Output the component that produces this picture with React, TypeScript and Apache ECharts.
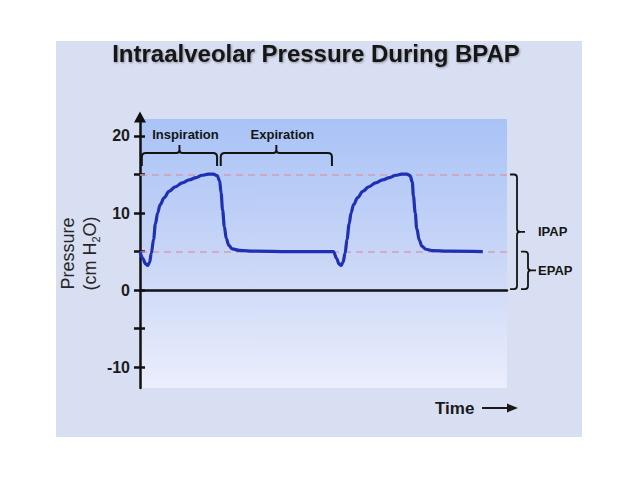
import React, { useEffect, useRef } from 'react';
import * as echarts from 'echarts';

// Pressure curve, first breath (time in arbitrary units, pressure in cm H2O)
const cycle1Time = [0, 0.8, 1.5, 2.1, 2.6, 3.1, 3.7, 4.2, 4.8, 5.5, 6.6, 7.9, 9.6, 11.5, 13.4, 15.3, 16.9, 18.6, 20.0, 21.0, 21.7, 22.1, 22.5, 23.0, 23.5, 24.2, 25.1, 27.1, 31.2, 40.7, 52.7];
const cycle1Pressure = [5.0, 4.1, 3.4, 3.2, 3.6, 4.8, 6.6, 8.6, 10.0, 11.1, 12.0, 12.8, 13.4, 13.9, 14.3, 14.6, 14.9, 15.05, 15.05, 14.85, 14.2, 12.6, 10.4, 8.2, 6.7, 5.8, 5.35, 5.15, 5.05, 5.0, 5.0];
// Second breath
const cycle2Time = [53.6, 54.2, 54.8, 55.3, 55.9, 56.4, 57.0, 57.5, 58.2, 59.3, 60.7, 62.3, 64.2, 66.1, 68.0, 69.7, 71.3, 72.7, 73.6, 74.2, 74.5, 75.0, 75.4, 76.1, 76.8, 77.9, 79.8, 83.9, 93.4];
const cycle2Pressure = [4.1, 3.4, 3.2, 3.6, 4.8, 6.6, 8.6, 10.0, 11.1, 12.0, 12.8, 13.4, 13.9, 14.3, 14.6, 14.9, 15.05, 15.05, 14.85, 14.0, 12.2, 10.0, 8.0, 6.5, 5.7, 5.3, 5.12, 5.05, 5.0];

const timeMin = 0;
const timeMax = 100;
const pressureMin = -12.7;
const pressureMax = 22.2;
const yTickValues = [-10, -5, 0, 5, 10, 15, 20];
const yLabelValues = [-10, 0, 10, 20];

const ipapLevel = 15;
const epapLevel = 5;

// Phase brackets above the curve
const phaseStart = [0.5, 22.0];
const phaseEnd = [21.0, 52.3];
const phaseLabels = ['Inspiration', 'Expiration'];
const phaseBracketLevel = 17.8;

// Pressure-level brackets on the right
const levelLow = [0, 0];
const levelHigh = [ipapLevel, epapLevel];
const levelLabels = ['IPAP', 'EPAP'];

const FONT = "'Liberation Sans', Arial, Helvetica, sans-serif";

export default function App() {
  const ref = useRef<HTMLDivElement>(null);

  useEffect(() => {
    if (!ref.current) return;
    const chart = echarts.init(ref.current, null, { renderer: 'svg' });

    const curve = cycle1Time
      .map((t, i) => [t, cycle1Pressure[i]])
      .concat(cycle2Time.map((t, i) => [t, cycle2Pressure[i]]));

    const option: any = {
      animation: false,
      textStyle: { fontFamily: FONT },
      graphic: [
        {
          type: 'rect',
          z: -10,
          silent: true,
          shape: { x: 56, y: 41, width: 526, height: 396 },
          style: { fill: '#d8dff2' },
        },
        {
          type: 'text',
          x: 316,
          y: 53,
          style: {
            text: 'Intraalveolar Pressure During BPAP',
            fontSize: 24,
            fontWeight: 'bold',
            fontFamily: FONT,
            fill: '#161616',
            align: 'center',
            verticalAlign: 'middle',
            textShadowColor: 'rgba(0,0,0,0.35)',
            textShadowBlur: 2,
            textShadowOffsetX: 1,
            textShadowOffsetY: 1,
          },
        },
        {
          type: 'text',
          x: 435,
          y: 408,
          style: {
            text: 'Time',
            fontSize: 17,
            fontWeight: 'bold',
            fontFamily: FONT,
            fill: '#1a1a1a',
            verticalAlign: 'middle',
          },
        },
        {
          type: 'line',
          shape: { x1: 482, y1: 408, x2: 510, y2: 408 },
          style: { stroke: '#1a1a1a', lineWidth: 2 },
        },
        {
          type: 'polygon',
          shape: { points: [[507, 403.5], [518, 408], [507, 412.5]] },
          style: { fill: '#1a1a1a' },
        },
      ],
      grid: {
        left: 140,
        top: 119,
        right: 131,
        bottom: 91,
        show: true,
        borderWidth: 0,
        backgroundColor: new echarts.graphic.LinearGradient(0, 0, 0, 1, [
          { offset: 0, color: '#a9c3f6' },
          { offset: 0.5, color: '#c8d5f7' },
          { offset: 1, color: '#ebeefc' },
        ]),
      },
      xAxis: {
        type: 'value',
        min: timeMin,
        max: timeMax,
        axisLine: { show: true, onZero: true, lineStyle: { color: '#111', width: 2.5 } },
        axisTick: { show: false },
        axisLabel: { show: false },
        splitLine: { show: false },
      },
      yAxis: [
        {
          type: 'value',
          position: 'left',
          min: pressureMin,
          max: pressureMax,
          axisLine: {
            show: true,
            onZero: false,
            lineStyle: { color: '#111', width: 2.5 },
            symbol: ['none', 'triangle'],
            symbolSize: [12, 11],
            symbolOffset: [0, 2],
          },
          axisTick: {
            show: true,
            inside: false,
            length: 6,
            lineStyle: { color: '#111', width: 2.5 },
            customValues: yTickValues,
          },
          axisLabel: {
            show: true,
            customValues: yLabelValues,
            margin: 10,
            fontSize: 16,
            fontWeight: 'bold',
            fontFamily: FONT,
            color: '#1c1c1c',
          },
          splitLine: { show: false },
          name: 'Pressure\n(cm H{sub|2}O)',
          nameLocation: 'middle',
          nameRotate: 90,
          nameGap: 39,
          nameMoveOverlap: false,
          nameTextStyle: {
            fontSize: 18,
            fontFamily: FONT,
            color: '#262626',
            lineHeight: 22,
            rich: {
              sub: { fontSize: 11, lineHeight: 22, verticalAlign: 'bottom', fontFamily: FONT, color: '#262626' },
            },
          },
        },
        {
          type: 'value',
          position: 'left',
          min: pressureMin,
          max: pressureMax,
          axisLine: { show: false },
          axisTick: {
            show: true,
            inside: true,
            length: 5,
            lineStyle: { color: '#111', width: 2.5 },
            customValues: yTickValues,
          },
          axisLabel: { show: false },
          splitLine: { show: false },
        },
      ],
      series: [
        {
          type: 'line',
          name: 'levels',
          data: [],
          z: 1,
          silent: true,
          markLine: {
            silent: true,
            symbol: ['none', 'none'],
            label: { show: false },
            lineStyle: { color: '#d59eae', type: [7, 5], width: 1.6 },
            data: [{ yAxis: ipapLevel }, { yAxis: epapLevel }],
          },
        },
        {
          type: 'line',
          name: 'Pressure',
          data: curve,
          z: 5,
          symbol: 'none',
          smooth: 0.35,
          smoothMonotone: 'x',
          lineStyle: { color: '#1f30b3', width: 3.2 },
          silent: true,
        },
        {
          type: 'custom',
          name: 'phases',
          z: 6,
          silent: true,
          clip: false,
          data: phaseStart.map((s, i) => [s, phaseEnd[i], phaseBracketLevel]),
          encode: { x: [0, 1], y: 2 },
          renderItem: (params: any, api: any) => {
            const a = api.coord([api.value(0), api.value(2)]);
            const b = api.coord([api.value(1), api.value(2)]);
            const x0 = a[0];
            const x1 = b[0];
            const y = a[1];
            const xm = (x0 + x1) / 2;
            const d =
              `M${x0} ${y + 13} L${x0} ${y + 4} Q${x0} ${y} ${x0 + 4} ${y} ` +
              `L${xm - 3} ${y} Q${xm} ${y} ${xm} ${y - 3} L${xm} ${y - 8} ` +
              `M${xm} ${y - 3} Q${xm} ${y} ${xm + 3} ${y} ` +
              `L${x1 - 4} ${y} Q${x1} ${y} ${x1} ${y + 4} L${x1} ${y + 13}`;
            return {
              type: 'group',
              children: [
                {
                  type: 'path',
                  shape: { pathData: d },
                  style: { stroke: '#141414', lineWidth: 2, fill: 'none' },
                },
                {
                  type: 'text',
                  x: xm + 6,
                  y: y - 18,
                  style: {
                    text: phaseLabels[params.dataIndex],
                    fontSize: 13,
                    fontWeight: 'bold',
                    fontFamily: FONT,
                    fill: '#151515',
                    align: 'center',
                    verticalAlign: 'middle',
                  },
                },
              ],
            };
          },
        },
        {
          type: 'custom',
          name: 'levelBrackets',
          z: 6,
          silent: true,
          clip: false,
          data: levelLow.map((l, i) => [timeMax, l, levelHigh[i]]),
          encode: { x: 0, y: [1, 2] },
          renderItem: (params: any, api: any) => {
            const i = params.dataIndex;
            const top = api.coord([api.value(0), api.value(2)]);
            const bot = api.coord([api.value(0), api.value(1)]);
            const right = top[0];
            const xv = right + 10 + 11 * i;
            const yt = top[1];
            const yb = bot[1] - 1;
            const ym = (yt + yb) / 2;
            const arm = 7;
            const d =
              `M${xv - arm} ${yt} L${xv - 3} ${yt} Q${xv} ${yt} ${xv} ${yt + 3} ` +
              `L${xv} ${ym - 3} Q${xv} ${ym} ${xv + 3} ${ym} L${xv + 8} ${ym} ` +
              `M${xv + 3} ${ym} Q${xv} ${ym} ${xv} ${ym + 3} ` +
              `L${xv} ${yb - 3} Q${xv} ${yb} ${xv - 3} ${yb} L${xv - arm} ${yb}`;
            return {
              type: 'group',
              children: [
                {
                  type: 'path',
                  shape: { pathData: d },
                  style: { stroke: '#141414', lineWidth: 1.8, fill: 'none' },
                },
                {
                  type: 'text',
                  x: right + 31,
                  y: ym,
                  style: {
                    text: levelLabels[i],
                    fontSize: 13,
                    fontWeight: 'bold',
                    fontFamily: FONT,
                    fill: '#151515',
                    align: 'left',
                    verticalAlign: 'middle',
                  },
                },
              ],
            };
          },
        },
      ],
    };

    chart.setOption(option);
    return () => {
      chart.dispose();
    };
  }, []);

  return (
    <div
      ref={ref}
      style={{ position: 'absolute', left: 0, top: 0, width: 638, height: 479, background: '#ffffff' }}
    />
  );
}
